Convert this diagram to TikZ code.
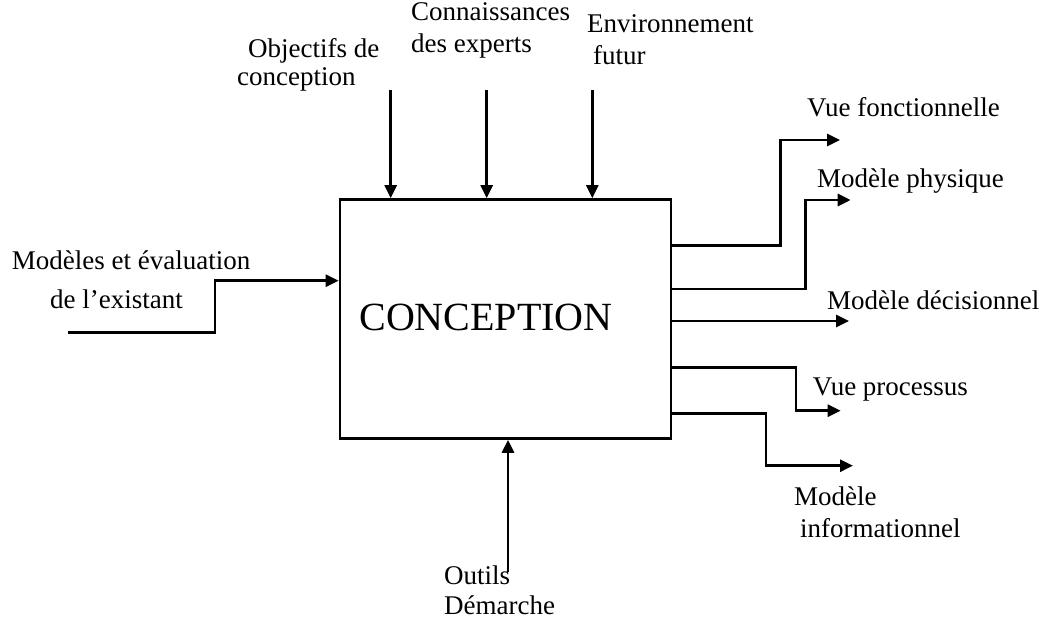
\documentclass[tikz,border=0pt]{standalone}
\usepackage{fontspec}
\setmainfont{Liberation Serif}
\usetikzlibrary{arrows.meta}
\begin{document}
\begin{tikzpicture}[x=1pt,y=-1pt,
  lbl/.style={anchor=base west,inner sep=0pt,font=\fontsize{27}{32}\selectfont},
  flow/.style={line width=2.8pt,-{Triangle[length=13pt,width=12pt]}},
  wire/.style={line width=2.8pt},
  mainbox/.style={draw,line width=2.6pt,minimum width=331pt,minimum height=239pt,inner sep=0pt}]
\useasboundingbox (0,0) rectangle (1042,618);

% central activity box
\node[mainbox] (box) at (505.5,319) {};
\node[inner sep=0pt,font=\fontsize{40}{48}\selectfont] (title) at (486,317) {CONCEPTION};

% controls (top)
\node[lbl] (obj1) at (248,58) {Objectifs de};
\node[lbl] (obj2) at (237,85) {conception};
\node[lbl] (con1) at (411,21) {Connaissances};
\node[lbl] (con2) at (411,53) {des experts};
\node[lbl] (env1) at (587,33) {Environnement};
\node[lbl] (env2) at (593,65) {futur};
\coordinate (c1) at (390.7,90);
\coordinate (c2) at (486.7,90);
\coordinate (c3) at (592.3,90);
\draw[flow] (c1) -- (c1 |- box.north);
\draw[flow] (c2) -- (c2 |- box.north);
\draw[flow] (c3) -- (c3 |- box.north);

% input (left)
\node[lbl] (in1) at (11.7,269) {Modèles et évaluation};
\node[lbl] (in2) at (50,308) {de l’existant};
\coordinate (i0) at (68,332.7);
\coordinate (i1) at (215,332.7);
\coordinate (i2) at (215,280.7);
\draw[flow] (i0) -- (i1) -- (i2) -- (i2 -| box.west);

% mechanism (bottom)
\node[lbl] (mec1) at (444,584) {Outils};
\node[lbl] (mec2) at (444,614) {Démarche};
\coordinate (m0) at (508,572);
\draw[flow] (m0) -- (m0 |- box.south);

% outputs (right)
\node[lbl] (o1) at (807,116.7) {Vue fonctionnelle};
\node[lbl] (o2) at (817,187.3) {Modèle physique};
\node[lbl] (o3) at (827,309) {Modèle décisionnel};
\node[lbl] (o4) at (812.7,395) {Vue processus};
\node[lbl] (o5a) at (794,505) {Modèle};
\node[lbl] (o5b) at (800,537) {informationnel};

\coordinate (r1) at (780.7,245.7);
\coordinate (t1) at (840,140);
\draw[flow] (r1 -| box.east) -- (r1) |- (t1);

\coordinate (r2) at (805.7,289);
\coordinate (t2) at (850.7,200);
\draw[flow] (r2 -| box.east) -- (r2) |- (t2);

\coordinate (t3) at (849,321);
\draw[flow] (t3 -| box.east) -- (t3);

\coordinate (r4) at (796,367.3);
\coordinate (t4) at (840.7,410.7);
\draw[flow] (r4 -| box.east) -- (r4) |- (t4);

\coordinate (r5) at (766,413.3);
\coordinate (t5) at (853,465.7);
\draw[flow] (r5 -| box.east) -- (r5) |- (t5);
\end{tikzpicture}
\end{document}
